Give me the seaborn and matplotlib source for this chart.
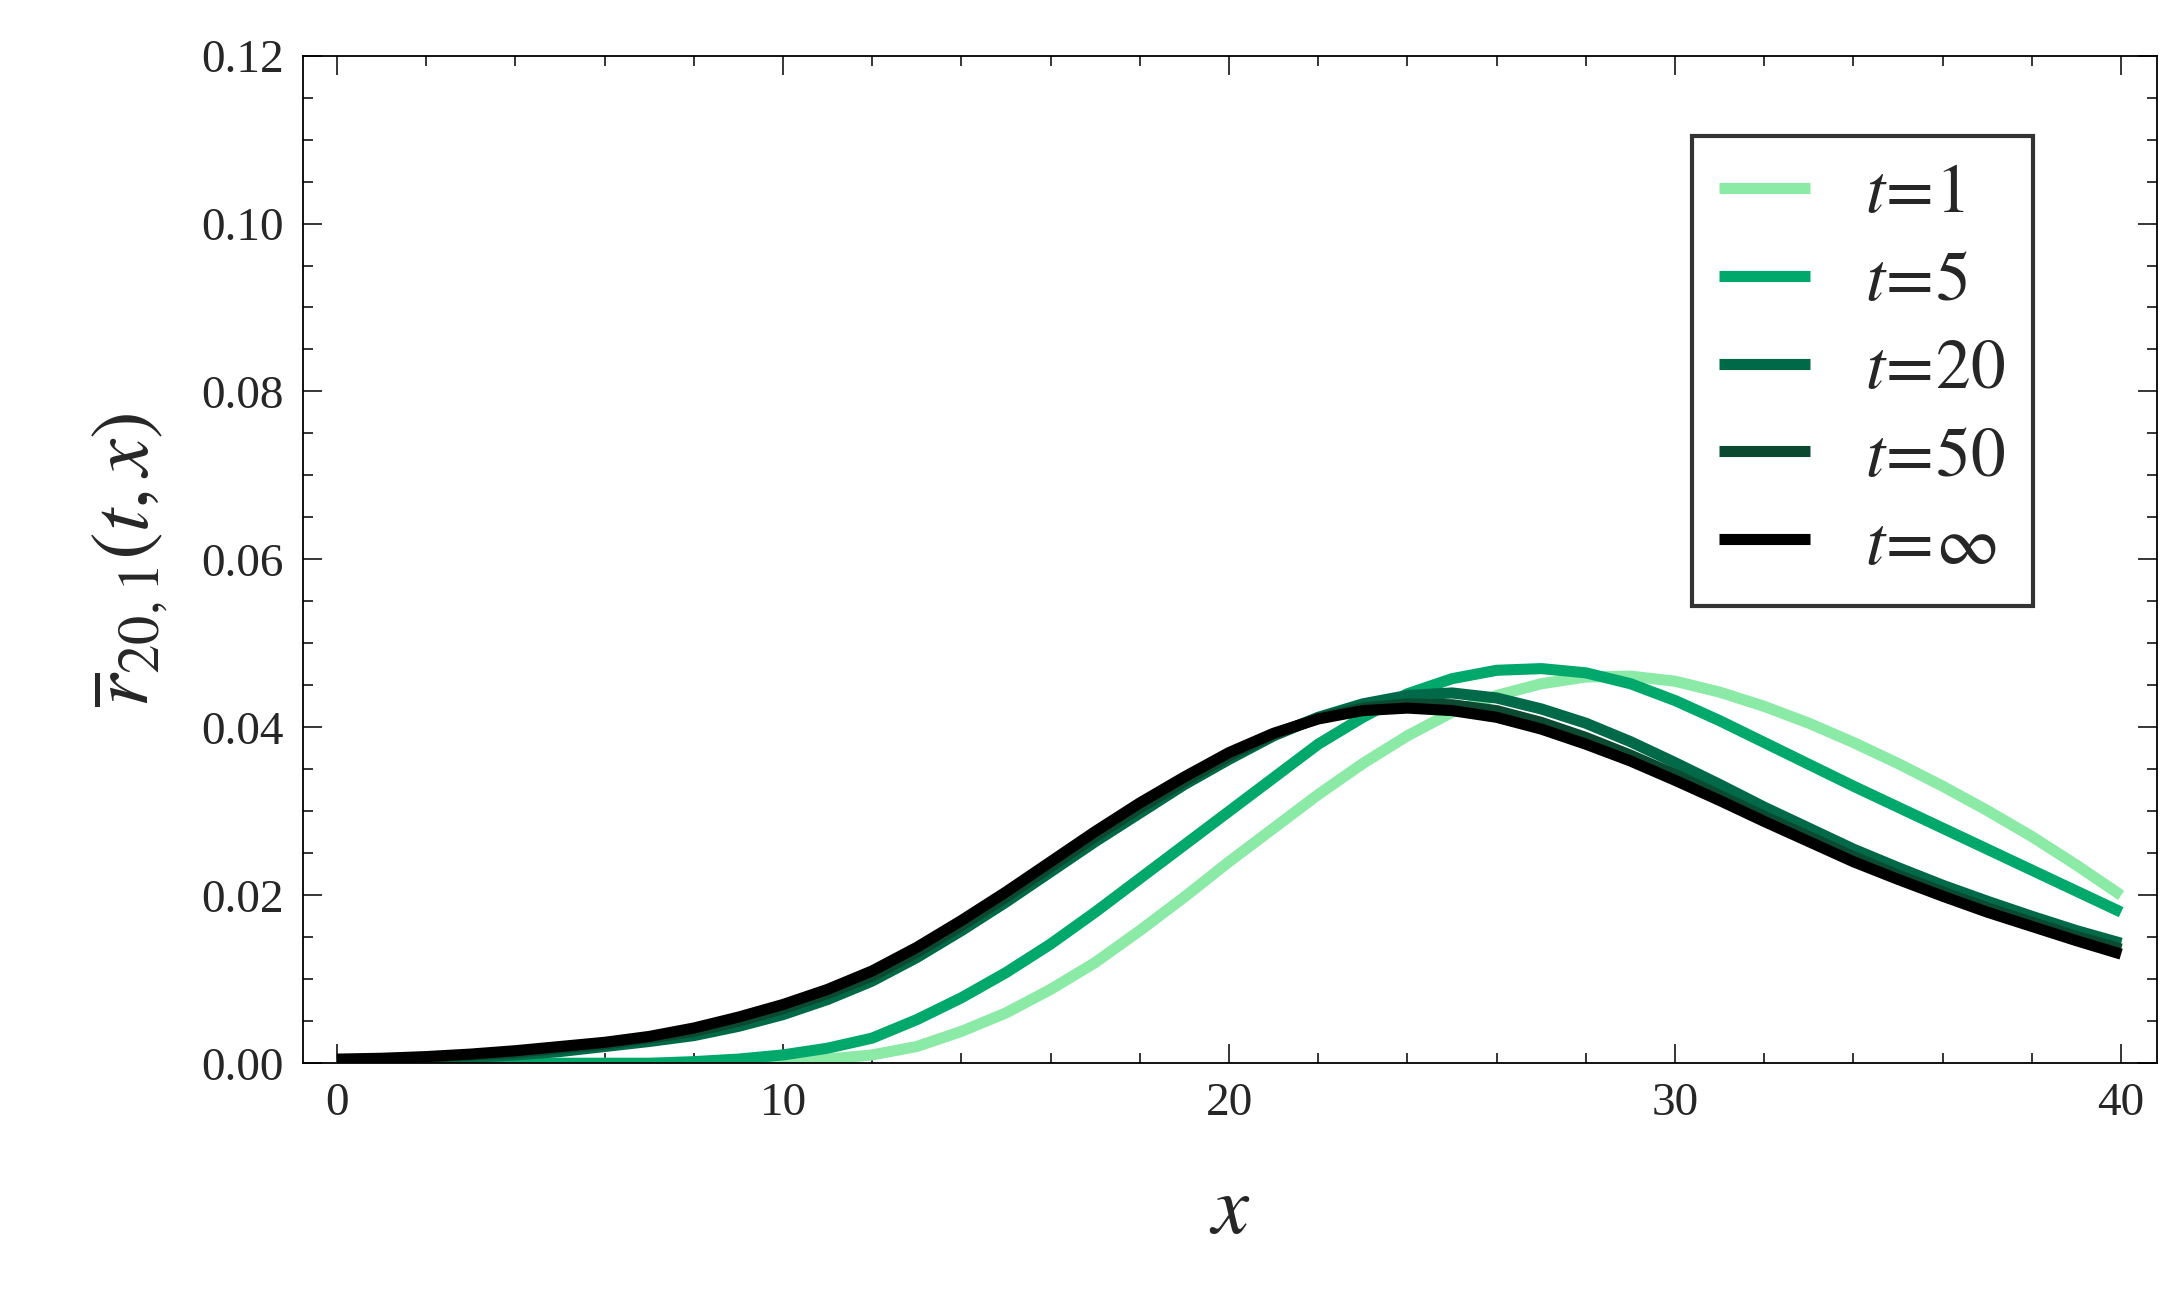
import numpy as np
import pandas as pd
import matplotlib
matplotlib.use("Agg")
import matplotlib.pyplot as plt
import seaborn as sns
from matplotlib.ticker import MultipleLocator

x = list(range(41))
r_t1 = [0, 0, 0, 0, 0, 0, 0, 0, 0, 0, 0.0002,
        0.0005, 0.001, 0.002, 0.0038, 0.006, 0.0088, 0.012, 0.0158, 0.0198, 0.024,
        0.028, 0.032, 0.0357, 0.039, 0.0418, 0.0438, 0.0452, 0.046, 0.0461, 0.0455,
        0.0442, 0.0425, 0.0405, 0.0382, 0.0357, 0.033, 0.0301, 0.027, 0.0236, 0.0200]
r_t5 = [0, 0, 0, 0, 0, 0, 0, 0, 0.0002, 0.0005, 0.001,
        0.0018, 0.003, 0.0052, 0.0078, 0.0108, 0.0142, 0.018, 0.022, 0.026, 0.030,
        0.034, 0.038, 0.0412, 0.044, 0.0458, 0.0468, 0.047, 0.0465, 0.0452, 0.0432,
        0.0408, 0.0382, 0.0356, 0.033, 0.0305, 0.028, 0.0255, 0.023, 0.0205, 0.0180]
r_t20 = [0.0003, 0.0004, 0.0005, 0.0007, 0.001, 0.0014, 0.002, 0.0026, 0.0033, 0.0044, 0.0058,
         0.0076, 0.0098, 0.0126, 0.0158, 0.0192, 0.0228, 0.0264, 0.0298, 0.0332, 0.0362,
         0.039, 0.0412, 0.0428, 0.0438, 0.0441, 0.0435, 0.0422, 0.0405, 0.0383, 0.0358,
         0.0332, 0.0305, 0.028, 0.0255, 0.0233, 0.0212, 0.0193, 0.0175, 0.0158, 0.0143]
r_t50 = [0.0004, 0.0005, 0.0007, 0.001, 0.0013, 0.0018, 0.0023, 0.003, 0.0038, 0.005, 0.0065,
         0.0083, 0.0104, 0.0132, 0.0164, 0.0198, 0.0234, 0.027, 0.0304, 0.0336, 0.0366,
         0.0392, 0.0411, 0.0423, 0.0428, 0.0427, 0.042, 0.0406, 0.0388, 0.0367, 0.0344,
         0.0319, 0.0294, 0.027, 0.0246, 0.0224, 0.0204, 0.0185, 0.0168, 0.0151, 0.0136]
r_inf = [0.0005, 0.0006, 0.0008, 0.0011, 0.0015, 0.002, 0.0025, 0.0032, 0.0042, 0.0055, 0.007,
         0.0088, 0.011, 0.0138, 0.017, 0.0204, 0.024, 0.0276, 0.031, 0.0341, 0.037,
         0.0393, 0.041, 0.042, 0.0423, 0.042, 0.0412, 0.0398, 0.038, 0.036, 0.0337,
         0.0313, 0.0288, 0.0264, 0.024, 0.0219, 0.0199, 0.018, 0.0163, 0.0146, 0.0130]
labels = [r"$t\!=\!1$", r"$t\!=\!5$", r"$t\!=\!20$", r"$t\!=\!50$", r"$t\!=\!\infty$"]
colors = ["#8aeaa6", "#00a86b", "#006a48", "#0b4a30", "#000000"]

df = pd.DataFrame({"x": x * 5,
                   "r": r_t1 + r_t5 + r_t20 + r_t50 + r_inf,
                   "t": sum([[l] * len(x) for l in labels], [])})

sns.set_style("ticks")
plt.rcParams["font.family"] = ["Liberation Serif", "DejaVu Serif"]
plt.rcParams["mathtext.fontset"] = "stix"

fig = plt.figure(figsize=(21.83, 12.92), dpi=100)
ax = fig.add_axes([0.139, 0.177, 0.849, 0.78])
sns.lineplot(data=df, x="x", y="r", hue="t", palette=colors, hue_order=labels,
             linewidth=8, ax=ax, solid_capstyle="butt")

ax.set_xlim(-0.75, 40.8)
ax.set_ylim(0, 0.12)
ax.xaxis.set_major_locator(MultipleLocator(10))
ax.xaxis.set_minor_locator(MultipleLocator(2))
ax.yaxis.set_major_locator(MultipleLocator(0.02))
ax.yaxis.set_minor_locator(MultipleLocator(0.005))
ax.yaxis.set_major_formatter(matplotlib.ticker.FormatStrFormatter("%.2f"))
ax.tick_params(which="both", direction="in", top=True, right=True, labelsize=34, width=1.3, pad=14)
ax.tick_params(which="major", length=14)
ax.tick_params(which="minor", length=7)
for s in ax.spines.values():
    s.set_linewidth(1.3)
    s.set_color("black")

ax.set_xlabel("$x$", fontsize=60, labelpad=36)
ax.set_ylabel(r"$\overline{r}_{20,1}(t,x)$", fontsize=60, labelpad=22)

leg = ax.legend(loc="upper right", fontsize=50, frameon=True, fancybox=False,
                edgecolor="black", borderpad=0.4, handlelength=1.3, labelspacing=0.35,
                bbox_to_anchor=(0.952, 0.955))
leg.get_frame().set_linewidth(3)
for h in leg.get_lines():
    h.set_linewidth(8)

fig.savefig("out.png", dpi=100)
